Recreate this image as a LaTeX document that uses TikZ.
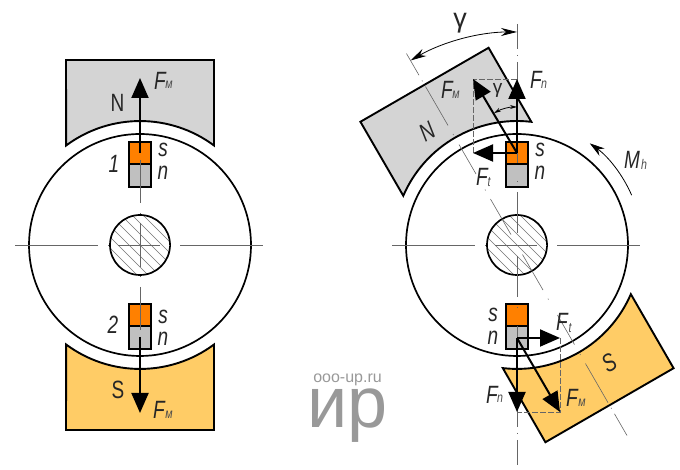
\documentclass[tikz,border=0pt]{standalone}
\usepackage{fontspec}
\setmainfont{Liberation Sans}
\newfontfamily\gost[FakeStretch=0.76]{Liberation Sans}
\usetikzlibrary{arrows.meta}
\definecolor{smallorange}{HTML}{FF8000}
\definecolor{smallgray}{HTML}{C0C0C0}
\definecolor{poleN}{HTML}{D4D4D4}
\definecolor{poleS}{HTML}{FFCC66}
\definecolor{markgray}{HTML}{999999}
\tikzset{
  contour/.style={draw=black, line width=1.9pt},
  axisline/.style={draw=black!60, line width=0.6pt},
  axisH/.style={axisline, dash pattern=on 83pt off 10pt on 1pt off 9pt on 42pt off 9pt on 1pt off 10pt on 83pt},
  axisV/.style={axisline, dash pattern=on 43pt off 10pt on 1pt off 9pt on 44pt off 9pt on 1pt off 10pt on 43pt},
  axisR/.style={axisline, dash pattern=on 25pt off 6pt on 1pt off 6pt on 45pt off 10pt on 1pt off 11pt on 34pt off 18pt on 1pt off 10pt on 41pt off 23pt on 41pt off 10pt on 1pt off 18pt on 34pt off 11pt on 1pt off 10pt on 45pt off 6pt on 1pt off 6pt on 25pt},
  helpline/.style={draw=black!60, line width=0.7pt, dash pattern=on 6pt off 2pt},
  force/.style={line width=2pt, -{Triangle[length=20pt,width=17pt]}},
  dimline/.style={line width=0.8pt, {Stealth[length=16pt,width=8pt]}-{Stealth[length=16pt,width=8pt]}},
  lbl/.style={inner sep=0pt, text=black!85, font=\gost\itshape\fontsize{25}{25}\selectfont},
  upr/.style={inner sep=0pt, text=black!85, font=\gost\fontsize{25}{25}\selectfont},
  sub/.style={inner sep=0pt, text=black!70, font=\gost\itshape\fontsize{14}{14}\selectfont},
}
% rotor with shaft and the two small magnets, centre at (0,0)
\newcommand{\rotorbody}{
  \draw[contour, line width=1.7pt] (0,0) circle (111);
  \begin{scope}
    \clip (0,0) circle (30);
    \foreach \d in {-44,-33,...,44}
      \draw[black!55, line width=0.5pt] (\d-40,40) -- (\d+40,-40);
  \end{scope}
  \draw[contour, line width=1.7pt] (0,0) circle (30);
  \draw[contour, fill=smallorange] (-11,103) rectangle (11,81);
  \draw[contour, fill=smallgray] (-11,81) rectangle (11,58);
  \draw[contour, fill=smallorange] (-11,-59) rectangle (11,-81);
  \draw[contour, fill=smallgray] (-11,-81) rectangle (11,-104);
}
% big magnet, pole face concentric with the rotor
\newcommand{\poleup}[1]{
  \draw[contour, fill=#1] (-74,185) -- (74,185) -- (74,99.5)
    arc[start angle=53.4, end angle=126.6, radius=124] -- cycle;
}
\newcommand{\poledown}[1]{
  \draw[contour, fill=#1] (-74,-185) -- (74,-185) -- (74,-99.5)
    arc[start angle=-53.4, end angle=-126.6, radius=124] -- cycle;
}
\begin{document}
\begin{tikzpicture}[x=1pt, y=1pt]
  \useasboundingbox (0,0) rectangle (680,470);

  % left rotor
  \begin{scope}[shift={(140,225)}]
    \poleup{poleN}
    \poledown{poleS}
    \rotorbody
    \draw[axisH] (-125,0) -- (125,0);
    \draw[axisV] (0,85) -- (0,-85);

    \coordinate (L1) at (0,92);
    \coordinate (L1F) at (0,167);
    \coordinate (L2) at (0,-92);
    \coordinate (L2F) at (0,-168);
    \draw[force] (L1) -- (L1F);
    \draw[force] (L2) -- (L2F);

    \node[lbl] (fm1) at (20,164.5) {F};
    \node[sub] (fm1s) at (29,160) {м};
    \node[upr] (N1) at (-22.5,142.5) {N};
    \node[lbl] (s1) at (23,95) {s};
    \node[lbl] (n1) at (23,72) {n};
    \node[lbl] (no1) at (-26,81) {1};
    \node[lbl] (s2) at (23,-72) {s};
    \node[lbl] (n2) at (23,-94) {n};
    \node[lbl] (no2) at (-27,-80) {2};
    \node[upr] (S1) at (-22,-145) {S};
    \node[lbl] (fm2) at (19,-165) {F};
    \node[sub] (fm2s) at (29,-170) {м};
  \end{scope}

  % right rotor
  \begin{scope}[shift={(517,225)}]
    \begin{scope}[rotate=30]
      \poleup{poleN}
      \poledown{poleS}
    \end{scope}
    \rotorbody
    \draw[axisH] (-125,0) -- (125,0);
    \draw[axisR] (0,221) -- (0,-221);
    \draw[axisR] (-110.5,191.4) -- (110.5,-191.4);
    \coordinate (R1) at (0,92);
    \coordinate (R1M) at (-44,166);
    \coordinate (R1N) at (0,166);
    \coordinate (R1T) at (-44,92);
    \coordinate (R2) at (0,-93);
    \coordinate (R2M) at (43,-167);
    \coordinate (R2N) at (0,-167);
    \coordinate (R2T) at (43,-93);
    \draw[helpline] (R1T) -- (R1M) -- (R1N);
    \draw[helpline] (R2T) -- (R2M) -- (R2N);
    \draw[force] (R1) -- (R1M);
    \draw[force] (R1) -- (R1N);
    \draw[force] (R1) -- (R1T);
    \draw[force] (R2) -- (R2M);
    \draw[force] (R2) -- (R2N);
    \draw[force] (R2) -- (R2T);

    % angles and moment
    \draw[dimline] (90:213) arc[start angle=90, end angle=120, radius=213];
    \draw[line width=0.8pt, {Stealth[length=7pt,width=4pt]}-{Stealth[length=7pt,width=4pt]}]
      (0,92) ++(90:46) arc[start angle=90, end angle=120, radius=46];
    \draw[line width=0.8pt, -{Stealth[length=15pt,width=9pt]}]
      (23.5:125) arc[start angle=23.5, end angle=54.4, radius=125];

    \node[upr, font=\fontsize{27}{27}\selectfont] (gam) at (-57,222) {γ};
    \node[upr, font=\fontsize{19}{19}\selectfont] (gam2) at (-19.5,155) {γ};
    \node[lbl] (fmN) at (-70,155) {F};
    \node[sub] (fmNs) at (-61,150) {м};
    \node[lbl] (fnN) at (19,165) {F};
    \node[sub] (fnNs) at (27,160) {n};
    \node[lbl] (ftN) at (-35,68) {F};
    \node[sub] (ftNs) at (-28,63) {t};
    \node[lbl, rotate=30] (NR) at (-90,113) {N};
    \node[lbl] (sR1) at (23,95) {s};
    \node[lbl] (nR1) at (23,72) {n};
    \node[lbl] (mh) at (115,85) {M};
    \node[sub] (mhs) at (127,81) {h};

    \node[lbl] (sR2) at (-24,-70) {s};
    \node[lbl] (nR2) at (-24,-93) {n};
    \node[lbl] (ftS) at (45,-77) {F};
    \node[sub] (ftSs) at (53,-83) {t};
    \node[lbl] (fnS) at (-25,-150) {F};
    \node[sub] (fnSs) at (-17,-154) {n};
    \node[lbl] (fmS) at (55,-153) {F};
    \node[sub] (fmSs) at (65,-158) {м};
    \node[lbl, rotate=30] (SR) at (92,-118) {S};
  \end{scope}

  % site mark
  \node[inner sep=0pt, text=markgray, font=\fontsize{16}{16}\selectfont] (site) at (347.5,90) {ooo-up.ru};
  \node[inner sep=0pt, text=markgray, font=\fontsize{72}{72}\selectfont, anchor=base] (mark) at (347.5,42) {ир};
\end{tikzpicture}
\end{document}
